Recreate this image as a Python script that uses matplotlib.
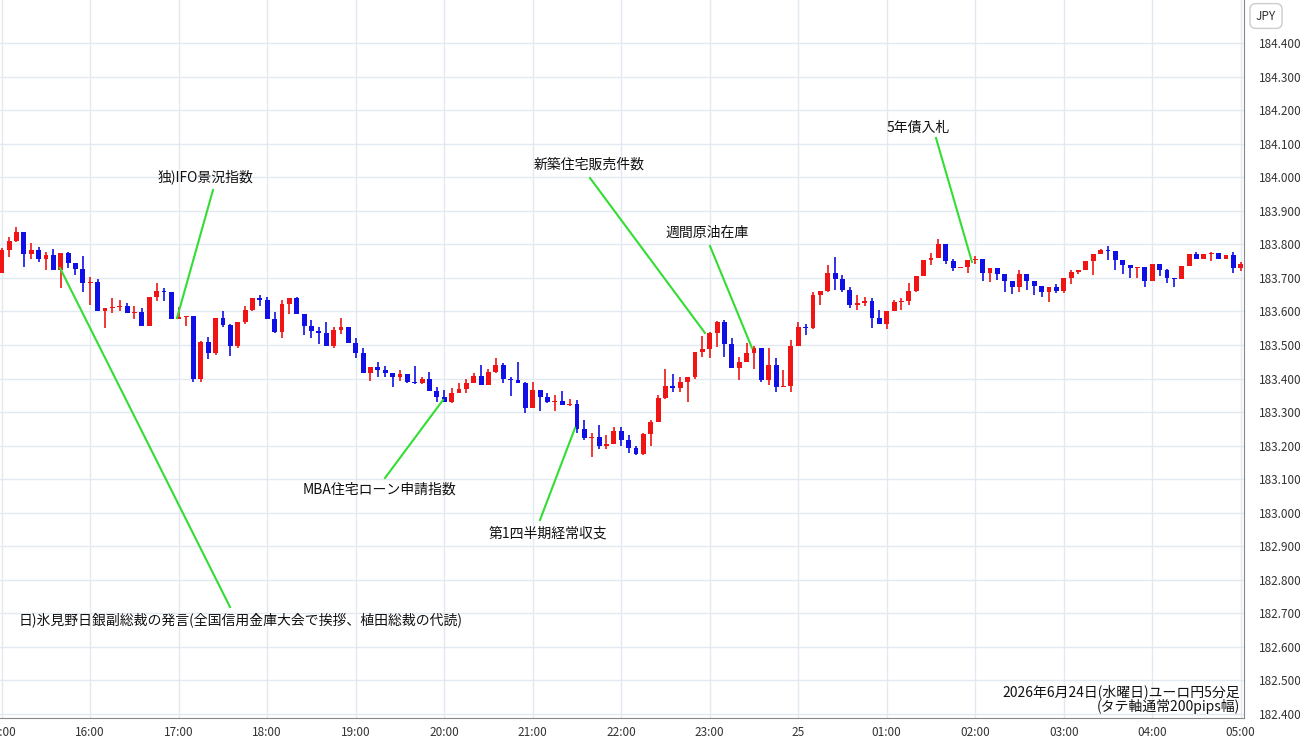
import matplotlib
matplotlib.use("Agg")
import matplotlib.pyplot as plt
import numpy as np

plt.rcParams['font.family'] = ['Noto Sans CJK JP', 'DejaVu Sans']

first_open = 183.714
closes = [183.783,183.81,183.837,183.771,183.783,183.756,183.768,183.723,183.774,183.744,183.726,183.684,
183.687,183.601,183.61,183.613,183.616,183.595,183.598,183.556,183.643,183.66,183.657,183.577,
183.583,183.586,183.40,183.51,183.476,183.579,183.56,183.497,183.569,183.604,183.64,183.635,
183.578,183.539,183.622,183.64,183.593,183.556,183.541,183.535,183.497,183.545,183.553,183.506,
183.476,183.417,183.435,183.426,183.417,183.405,183.414,183.39,183.388,183.40,183.362,183.345,
183.33,183.357,183.37,183.387,183.407,183.38,183.42,183.44,183.40,183.395,183.388,183.312,
183.366,183.345,183.33,183.333,183.322,183.325,183.25,183.224,183.227,183.20,183.206,183.245,
183.218,183.194,183.176,183.236,183.27,183.342,183.378,183.372,183.39,183.405,183.479,183.488,
183.535,183.568,183.503,183.431,183.449,183.476,183.491,183.396,183.44,183.375,183.378,183.497,
183.554,183.551,183.648,183.66,183.714,183.697,183.663,183.619,183.625,183.631,183.58,183.562,
183.601,183.628,183.631,183.66,183.705,183.754,183.76,183.80,183.751,183.73,183.733,183.754,
183.757,183.715,183.73,183.712,183.692,183.672,183.712,183.692,183.675,183.657,183.672,183.66,
183.70,183.718,183.724,183.75,183.77,183.783,183.78,183.754,183.739,183.73,183.733,183.69,
183.74,183.724,183.70,183.697,183.736,183.772,183.757,183.772,183.775,183.757,183.767,183.73,183.742]
highs = [183.79,183.822,183.852,183.837,183.804,183.792,183.777,183.786,183.774,183.777,183.744,183.765,
183.703,183.697,183.610,183.640,183.634,183.625,183.616,183.610,183.643,183.685,183.670,183.658,
183.613,183.586,183.586,183.512,183.524,183.580,183.601,183.562,183.568,183.616,183.640,183.649,
183.643,183.598,183.634,183.640,183.643,183.592,183.574,183.553,183.568,183.553,183.580,183.553,
183.521,183.491,183.434,183.449,183.437,183.416,183.425,183.413,183.437,183.404,183.419,183.375,
183.366,183.372,183.387,183.398,183.416,183.440,183.428,183.461,183.446,183.404,183.449,183.390,
183.390,183.366,183.357,183.351,183.363,183.339,183.336,183.276,183.238,183.261,183.232,183.255,
183.255,183.232,183.199,183.238,183.276,183.351,183.428,183.413,183.404,183.405,183.479,183.527,
183.539,183.571,183.574,183.521,183.464,183.506,183.497,183.491,183.491,183.461,183.425,183.515,
183.568,183.562,183.658,183.660,183.738,183.762,183.708,183.673,183.649,183.643,183.640,183.604,
183.601,183.634,183.640,183.685,183.705,183.754,183.774,183.816,183.798,183.756,183.733,183.754,
183.765,183.757,183.730,183.723,183.703,183.692,183.723,183.712,183.685,183.664,183.672,183.682,
183.700,183.723,183.717,183.750,183.772,183.785,183.795,183.780,183.754,183.739,183.723,183.733,
183.740,183.740,183.726,183.700,183.736,183.772,183.777,183.772,183.777,183.775,183.767,183.776,183.747]
lows = [183.714,183.762,183.807,183.732,183.756,183.747,183.723,183.723,183.670,183.729,183.708,183.658,
183.619,183.601,183.550,183.595,183.601,183.595,183.577,183.556,183.556,183.631,183.631,183.577,
183.577,183.556,183.390,183.390,183.458,183.470,183.553,183.467,183.491,183.562,183.601,183.616,
183.577,183.536,183.521,183.592,183.592,183.530,183.521,183.503,183.497,183.491,183.533,183.506,
183.461,183.416,183.393,183.404,183.404,183.375,183.393,183.387,183.384,183.384,183.362,183.330,
183.330,183.327,183.357,183.357,183.387,183.381,183.381,183.416,183.387,183.348,183.387,183.297,
183.312,183.303,183.327,183.303,183.322,183.318,183.238,183.217,183.166,183.190,183.190,183.205,
183.199,183.178,183.172,183.172,183.199,183.270,183.339,183.360,183.360,183.330,183.398,183.464,
183.461,183.494,183.464,183.431,183.396,183.449,183.428,183.390,183.381,183.360,183.375,183.360,
183.497,183.530,183.547,183.619,183.658,183.664,183.658,183.610,183.604,183.616,183.550,183.562,
183.547,183.601,183.604,183.619,183.658,183.705,183.738,183.760,183.741,183.720,183.730,183.714,
183.741,183.691,183.688,183.694,183.658,183.652,183.658,183.664,183.649,183.643,183.628,183.655,
183.655,183.682,183.711,183.724,183.708,183.770,183.753,183.723,183.711,183.700,183.700,183.673,
183.690,183.706,183.685,183.673,183.697,183.736,183.757,183.757,183.750,183.757,183.757,183.714,183.720]

hour_labels = ["15:00","16:00","17:00","18:00","19:00","20:00","21:00","22:00","23:00","25",
               "01:00","02:00","03:00","04:00","05:00"]
price_ticks = [182.4,182.5,182.6,182.7,182.8,182.9,183.0,183.1,183.2,183.3,183.4,183.5,183.6,
               183.7,183.8,183.9,184.0,184.1,184.2,184.3,184.4]

W, H = 1300, 745
fig = plt.figure(figsize=(13, 7.45), dpi=100)
ax = fig.add_axes([0, 1 - 718 / H, 1244 / W, 718 / H])

def px(x, y):
    return (x - 1.7) / 7.375, 184.4 - (y - 43) / 335.5

n = len(closes)
opens = [first_open] + closes[:-1]
for i in range(n):
    o, c = opens[i], closes[i]
    col = '#f01414' if c >= o else '#1010e6'
    hi = max(highs[i], o, c); lo = min(lows[i], o, c)
    ax.vlines(i, lo, hi, color=col, lw=1.2, zorder=3)
    b = max(abs(c - o), 0.0025)
    ax.bar(i, b, bottom=min(o, c) if abs(c-o) >= 0.0025 else (o+c)/2 - b/2,
           width=0.66, color=col, edgecolor=col, lw=0, zorder=4)

x0, _ = px(0, 0)
x1, _ = px(1244, 0)
ax.set_xlim(x0, x1)
ax.set_ylim(184.4 - (718 - 43) / 335.5, 184.4 + 43 / 335.5)
ax.set_yticks(price_ticks)
ax.set_xticks(np.arange(len(hour_labels)) * 12)
ax.set_xticklabels(hour_labels, fontsize=8.5, color='#333333')
ax.set_yticklabels([f"{p:.3f}" for p in price_ticks], fontsize=8.5, color='#333333')
ax.yaxis.tick_right()
ax.tick_params(length=0, pad=6)
ax.tick_params(axis='y', pad=11)
ax.grid(True, color='#e3e9f0', lw=1)
ax.set_axisbelow(True)
for s in ['top', 'left']:
    ax.spines[s].set_visible(False)
ax.spines['right'].set_color('#888888')
ax.spines['bottom'].set_color('#888888')

fig.text(1266 / W, 1 - 16 / H, "JPY", fontsize=8.5, ha='center', va='center', color='#333333',
         bbox=dict(boxstyle='round,pad=0.5', fc='white', ec='#cccccc'))

annots = [
    ("独)IFO景況指数", (205, 177), (213, 190), (177, 318), 'center'),
    ("日)氷見野日銀副総裁の発言(全国信用金庫大会で挨拶、植田総裁の代読)", (19, 620), (230, 607), (60, 268), 'left'),
    ("MBA住宅ローン申請指数", (380, 490), (385, 478), (443, 400), 'center'),
    ("第1四半期経常収支", (548, 533), (540, 520), (575, 428), 'center'),
    ("新築住宅販売件数", (589, 165), (590, 178), (705, 333), 'center'),
    ("週間原油在庫", (707, 233), (710, 246), (752, 348), 'center'),
    ("5年債入札", (918, 128), (936, 138), (972, 262), 'center'),
]
for txt, tp, p0, p1, ha in annots:
    ax.text(*px(*tp), txt, fontsize=10, ha=ha, va='center', color='#111111', zorder=6)
    a, b = px(*p0); c, d = px(*p1)
    ax.plot([a, c], [b, d], color='#33dd33', lw=1.5, zorder=5)

ax.text(*px(1240, 692), "2026年6月24日(水曜日)ユーロ円5分足", fontsize=10, ha='right', va='center', color='#111111')
ax.text(*px(1240, 706), "(タテ軸通常200pips幅)", fontsize=10, ha='right', va='center', color='#111111')

fig.savefig("out.png", dpi=100, facecolor='white')
